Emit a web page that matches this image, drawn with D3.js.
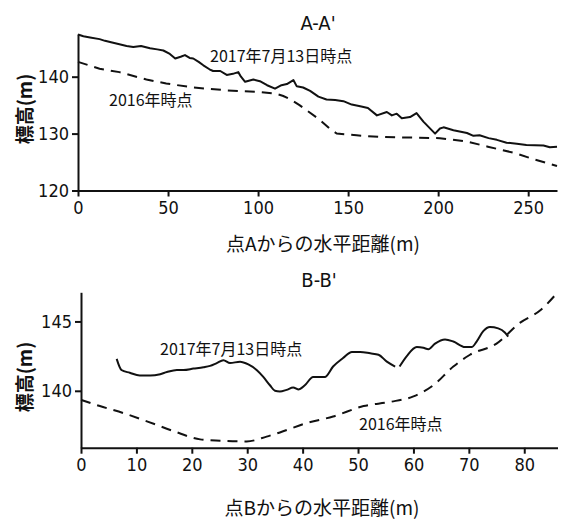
<!DOCTYPE html>
<html><head><meta charset="utf-8">
<script src="https://cdn.jsdelivr.net/npm/d3@7"></script>
<style>
body{margin:0;background:#fff;}
svg{display:block;}
.tick text{font-family:"Liberation Sans Narrow","DejaVu Sans Condensed",sans-serif;font-size:18px;fill:#111;}
.jp{font-family:"Noto Sans CJK JP",sans-serif;fill:#111;}
.ttl{font-family:"Liberation Sans Narrow","DejaVu Sans Condensed",sans-serif;font-size:20px;fill:#111;}
</style></head>
<body>
<script>
// ---- data ----
const titles = ["A-A'", "B-B'"];
const xLabels = ["点Aからの水平距離(m)", "点Bからの水平距離(m)"];
const yLabel = "標高(m)";
const seriesNames = ["2017年7月13日時点", "2016年時点"];

const aXTicks = [0, 50, 100, 150, 200, 250];
const aYTicks = [120, 130, 140];
const bXTicks = [0, 10, 20, 30, 40, 50, 60, 70, 80];
const bYTicks = [140, 145];

const a2017 = [[0,147.4],[3,147.1],[6.7,146.9],[12,146.6],[15,146.3],[17.8,146.1],[23,145.7],[27,145.4],[30.7,145.2],[35,145.4],[40,145.0],[44,144.8],[47.4,144.6],[51,144.0],[54,143.2],[57,143.5],[59.4,143.8],[62,143.3],[64,143.2],[67,142.6],[69.6,142.0],[73,141.3],[75,141.0],[79,141.0],[82.6,140.3],[86,140.5],[89,140.8],[90.5,140.0],[92.8,139.1],[97.4,139.5],[101,139.2],[105,138.5],[109.4,137.9],[113,138.5],[116,138.7],[119.6,139.4],[121.5,138.3],[125,138.1],[128.9,137.5],[133.5,136.5],[138,136.0],[142.8,135.9],[147.4,135.7],[152,135.1],[156.7,134.8],[161,134.5],[166,133.2],[171.5,133.8],[174.3,133.2],[177,133.5],[179.8,132.7],[184.4,132.9],[188,133.6],[191.8,132.1],[198.3,130.0],[201,130.9],[203,131.1],[208.5,130.6],[216,130.1],[219.6,129.6],[223,129.7],[228,129.2],[232.6,128.9],[238,128.4],[243.7,128.2],[249,128.0],[258.5,127.9],[262,127.6],[266,127.7]];
const a2016 = [[0,142.6],[12,141.4],[23,140.8],[38,139.5],[49,138.8],[64,138.1],[82.6,137.6],[101,137.3],[110,137.0],[114,136.6],[118,136.0],[123,135.0],[134,132.5],[140,130.8],[143.7,130.0],[154.7,129.7],[167.8,129.4],[186,129.3],[201,129.2],[216,128.6],[227.6,127.7],[242.4,126.6],[253,125.5],[266,124.3]];

const b2017a = [[6.44,142.3],[7.3,141.5],[8.8,141.3],[10.6,141.1],[12.5,141.1],[14.3,141.2],[15.5,141.35],[17.3,141.5],[18.5,141.5],[20.3,141.6],[22.1,141.7],[23.3,141.8],[24.5,142.0],[25.7,142.2],[26.9,142.0],[28.7,142.1],[30.2,141.9],[31.7,141.5],[32.9,141.0],[34.1,140.4],[35,140.0],[35.9,139.95],[37.1,140.07],[38.3,140.24],[39.2,140.1],[40.4,140.4],[41.9,141.0],[43.1,141.0],[44,141.0],[45.5,141.75],[47.3,142.36],[48.9,142.8],[50.4,142.8],[52.2,142.7],[53.7,142.6],[55.2,142.1],[56.7,141.75]];
const b2017b = [[57.5,141.75],[58.8,142.5],[60.6,143.15],[61.8,143.1],[62.7,143.0],[63.9,143.4],[65.7,143.7],[67.2,143.55],[69.3,143.15],[70.5,143.15],[71.4,143.55],[72.6,144.3],[73.8,144.6],[75.3,144.5],[76.5,144.2],[77.1,143.9]];
const b2016 = [[0,139.35],[3.4,138.9],[7.6,138.4],[11.9,137.8],[16.7,137.1],[21.5,136.5],[25.1,136.4],[29.9,136.35],[33.5,136.7],[35.9,137.0],[40.7,137.67],[45.5,138.15],[51,138.9],[55.8,139.2],[60,139.6],[63.6,140.4],[67.2,141.75],[70.2,142.6],[75,143.4],[79.2,144.9],[82.9,145.8],[85.9,147.04]];

// ---- drawing ----
const svg = d3.select("body").append("svg").attr("width", 571).attr("height", 522);

function panel(cfg) {
  const x = d3.scaleLinear().domain(cfg.xDom).range(cfg.xR);
  const y = d3.scaleLinear().domain(cfg.yDom).range(cfg.yR);
  const g = svg.append("g");
  const xa = g.append("g").attr("transform", `translate(0,${cfg.yR[0]})`)
    .call(d3.axisBottom(x).tickValues(cfg.xTicks).tickSize(6).tickSizeOuter(0).tickPadding(5).tickFormat(d3.format("d")));
  const ya = g.append("g").attr("transform", `translate(${cfg.xR[0]},0)`)
    .call(d3.axisLeft(y).tickValues(cfg.yTicks).tickSize(6).tickSizeOuter(0).tickPadding(3).tickFormat(d3.format("d")));
  [xa, ya].forEach(a => { a.selectAll("path,line").attr("stroke", "#111").attr("stroke-width", 2); });

  const line = d3.line().x(d => x(d[0])).y(d => y(d[1])).curve(cfg.curve);
  cfg.solid.forEach(s => g.append("path").datum(s).attr("d", line)
    .attr("fill", "none").attr("stroke", "#111").attr("stroke-width", 2).attr("stroke-linejoin", "round"));
  g.append("path").datum(cfg.dashed).attr("d", line)
    .attr("fill", "none").attr("stroke", "#111").attr("stroke-width", 2).attr("stroke-dasharray", "10,7");

  g.append("text").attr("class", "ttl").attr("x", cfg.titlePos[0]).attr("y", cfg.titlePos[1]).attr("text-anchor", "middle").text(cfg.title);
  g.append("text").attr("class", "jp").attr("font-size", 19).attr("x", cfg.xLabPos[0]).attr("y", cfg.xLabPos[1]).attr("text-anchor", "middle").text(cfg.xLab);
  g.append("text").attr("class", "jp").attr("font-size", 19).attr("font-weight", "bold")
    .attr("transform", `translate(${cfg.yLabPos[0]},${cfg.yLabPos[1]}) rotate(-90)`).attr("text-anchor", "middle").text(yLabel);
  g.append("text").attr("class", "jp").attr("font-size", 16).attr("x", cfg.lab1[0]).attr("y", cfg.lab1[1]).text(seriesNames[0]);
  g.append("text").attr("class", "jp").attr("font-size", 16).attr("x", cfg.lab2[0]).attr("y", cfg.lab2[1]).text(seriesNames[1]);
}

panel({
  xDom: [0, 266], xR: [78, 557], yDom: [120, 147.5], yR: [190.5, 34],
  xTicks: aXTicks, yTicks: aYTicks, curve: d3.curveLinear,
  solid: [a2017], dashed: a2016, title: titles[0], titlePos: [318, 30],
  xLab: xLabels[0], xLabPos: [323, 251], yLabPos: [32, 109],
  lab1: [210, 62], lab2: [109, 106]
});
panel({
  xDom: [0, 86], xR: [81, 557.5], yDom: [135.9, 147.1], yR: [447.7, 292.3],
  xTicks: bXTicks, yTicks: bYTicks, curve: d3.curveMonotoneX,
  solid: [b2017a, b2017b], dashed: b2016, title: titles[1], titlePos: [319, 287],
  xLab: xLabels[1], xLabPos: [322, 515], yLabPos: [32, 377],
  lab1: [160, 355], lab2: [359, 430]
});
</script>
</body></html>
